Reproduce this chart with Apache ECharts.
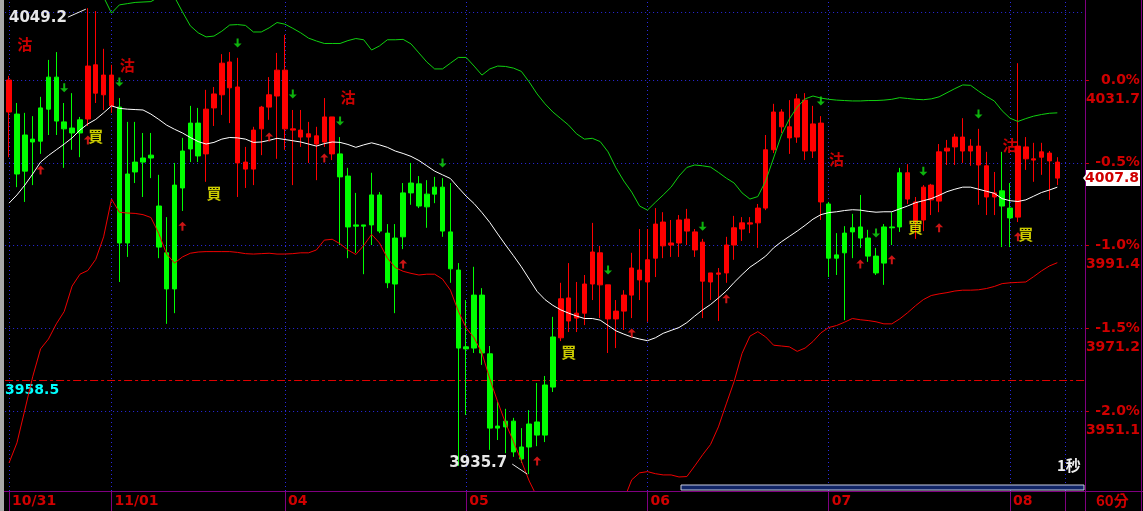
<!DOCTYPE html>
<html><head><meta charset="utf-8">
<script src="https://cdn.jsdelivr.net/npm/echarts@6/dist/echarts.min.js"></script>
<style>html,body{margin:0;padding:0;background:#000;}#c{width:1143px;height:511px;}</style>
</head><body><div id="c"></div>
<script>
// ---------- data ----------
const dayLabels = ['10/31','11/01','04','05','06','07','08'];
const dayBarCounts = [13,22,23,23,23,23,7];
const padSlots = 3;

const opens = [4023.9,4023.4,4018.3,4017.3,4024.9,4032.4,4032.4,4021.5,4020.0,4022.0,
4022.2,4028.5,4028.1,4025.4,4025.1,4008.8,4011.7,4012.7,4013.4,4001.0,
3989.6,4006.1,4014.4,4021.2,4021.2,4013.7,4024.9,4028.1,4029.8,4011.5,
4010.0,4010.0,4019.8,4025.1,4027.8,4019.8,4019.5,4017.8,4017.8,4016.1,
4016.6,4013.7,4013.7,4008.3,3996.4,3996.4,4003.7,4003.7,3994.4,3993.2,
4004.2,4006.6,4006.4,4003.9,4005.6,4005.6,3994.7,3985.4,3966.7,3979.3,
3979.3,3965.0,3947.4,3948.6,3948.6,3942.3,3947.9,3948.4,3957.4,3969.1,
3968.9,3973.0,3973.7,3974.9,3982.0,3981.8,3973.5,3973.5,3975.4,3979.3,
3983.0,3982.5,3988.3,3991.3,3991.5,3992.0,3994.9,3990.3,3982.7,3982.5,
3984.4,3984.7,3991.5,3995.4,3996.6,3996.9,4000.5,4014.7,4020.3,4017.6,
4017.8,4014.4,4014.4,4002.0,4001.5,3989.1,3994.4,3995.7,3995.9,3993.2,
3988.8,3995.9,3995.9,4009.1,4002.7,3997.4,3997.6,4002.5,4002.2,4014.4,
4015.4,4014.4,4014.4,4011.0,4003.2,4003.2,4004.7,4000.5,3998.3,4012.5,
4012.2,4012.9,4012.0,4007.8];
const closes = [4031.7,4008.8,4009.5,4016.6,4016.8,4024.6,4021.7,4019.8,4018.8,4018.8,
4035.1,4035.4,4032.9,4032.9,3992.0,3992.0,4009.3,4011.7,4012.7,3991.0,
3980.8,3980.8,4005.4,4014.9,4013.2,4024.6,4028.3,4035.8,4036.1,4030.0,
4011.7,4019.5,4025.1,4028.1,4034.1,4034.1,4019.8,4019.5,4018.6,4018.1,
4022.7,4022.7,4008.1,3995.9,3996.1,3996.1,3996.4,3994.9,3982.3,3982.0,
3993.5,4004.2,4001.0,4000.8,4003.9,3994.9,3985.7,3966.4,3966.2,3966.4,
3965.2,3946.9,3946.9,3947.2,3941.1,3939.4,3942.3,3945.2,3945.2,3956.9,
3978.4,3978.6,3974.9,3982.0,3989.8,3989.6,3981.8,3975.4,3979.3,3985.9,
3985.4,3987.9,3996.6,3997.1,3992.0,3997.6,3997.8,3994.7,3992.2,3984.7,
3984.7,3991.5,3995.7,3996.9,3996.9,4000.5,4014.7,4023.9,4023.9,4020.3,
4027.1,4026.8,4021.0,4021.2,3988.3,3988.3,3989.6,3994.7,3993.2,3988.8,
3984.7,3987.1,3995.7,3995.9,4009.1,4002.0,4005.6,4006.1,4014.2,4015.1,
4017.8,4017.8,4015.6,4015.6,4010.8,4004.2,4001.0,3998.1,4015.6,4015.4,
4012.5,4014.2,4013.9,4011.7];
const lows = [4012.9,4005.6,4002.0,4006.1,4013.7,4018.3,4018.3,4010.3,4014.7,4012.9,
4020.5,4026.1,4024.4,4023.7,3982.5,3988.6,4006.6,4003.2,4007.8,3988.3,
3972.3,3974.9,3999.8,4011.7,4011.7,4006.9,4020.5,4023.2,4021.2,4003.2,
4005.4,4006.1,4013.4,4022.0,4012.5,4014.7,4006.1,4015.4,4011.5,4007.3,
4015.4,4012.2,3991.5,3988.3,3989.6,3984.4,3991.5,3994.4,3981.0,3974.9,
3990.5,4001.3,4000.5,3995.7,4001.7,3993.5,3982.3,3937.7,3950.1,3965.2,
3962.3,3941.6,3944.0,3940.8,3939.9,3938.4,3935.7,3942.5,3943.5,3955.7,
3968.1,3970.3,3970.3,3972.0,3978.1,3973.7,3965.2,3966.4,3970.8,3973.7,
3978.1,3972.8,3983.7,3988.3,3988.6,3988.6,3991.5,3988.6,3973.7,3978.1,
3973.0,3982.3,3987.9,3992.5,3994.4,3990.8,4000.0,4013.9,4018.8,4013.7,
4016.4,4012.2,4012.7,3997.6,3983.7,3984.2,3973.2,3988.3,3990.8,3987.4,
3984.2,3981.8,3991.5,3994.7,4001.5,3993.0,3994.9,3998.8,3999.5,4011.0,
4011.0,4011.5,4010.8,4001.3,3998.8,3998.8,3991.0,3991.0,3997.1,4009.8,
4006.9,4008.6,4002.5,4006.1];
const highs = [4032.7,4026.1,4023.7,4022.9,4027.6,4036.6,4038.5,4026.1,4028.5,4022.7,
4049.2,4048.5,4039.3,4035.4,4027.3,4021.5,4021.5,4018.8,4018.8,4008.6,
3998.3,4011.5,4017.6,4025.4,4024.9,4029.3,4030.0,4038.0,4038.5,4037.1,
4015.4,4020.3,4025.4,4032.4,4038.3,4042.7,4024.4,4024.4,4021.5,4020.3,
4027.3,4022.7,4017.8,4010.3,4004.2,3996.4,4009.1,4004.4,3996.6,3996.6,
4006.6,4011.5,4008.3,4007.3,4008.1,4007.8,4006.6,3987.1,3978.1,3986.2,
3981.0,3966.9,3953.3,3951.6,3949.4,3946.9,3951.3,3957.9,3959.6,3974.0,
3982.3,3987.1,3982.5,3984.2,3996.9,3991.3,3981.8,3978.1,3980.5,3989.6,
3995.4,3995.4,4000.5,3999.5,3997.6,3998.8,4000.3,3995.4,3993.0,3984.7,
3985.9,3993.5,3998.6,3998.3,3998.3,4001.5,4018.3,4025.9,4024.6,4026.8,
4028.3,4028.5,4025.4,4022.9,4002.0,3994.4,3996.1,3999.1,4003.7,3995.2,
3990.8,3996.6,3999.5,4010.3,4011.2,4003.2,4006.1,4006.4,4016.1,4017.1,
4018.6,4022.4,4017.3,4019.8,4014.2,4009.3,4014.2,4006.6,4035.8,4017.8,
4016.4,4016.4,4014.4,4012.9];

const upperBand = [4065.1,4063.4,4061.7,4059.7,4057.8,4056.1,4054.6,4053.6,4053.1,4052.7,
4052.4,4052.2,4051.9,4048.0,4050.0,4050.3,4050.6,4050.7,4050.8,4051.9,
4052.7,4051.9,4048.3,4044.9,4043.2,4042.2,4042.4,4043.6,4045.1,4045.2,
4045.0,4043.4,4043.4,4044.4,4045.7,4045.3,4044.3,4043.2,4041.9,4041.2,
4040.6,4040.6,4040.6,4041.3,4041.8,4041.5,4039.0,4040.0,4041.5,4041.5,
4041.6,4040.5,4038.3,4036.1,4034.4,4034.4,4035.8,4037.2,4037.2,4035.1,
4032.9,4034.4,4035.1,4035.0,4034.6,4033.8,4031.2,4028.3,4025.9,4023.9,
4022.3,4020.7,4018.6,4017.3,4017.5,4016.7,4014.2,4010.3,4007.1,4004.4,
4001.0,4000.0,4001.9,4003.7,4005.6,4008.3,4010.4,4011.0,4010.8,4010.5,
4009.2,4007.8,4006.6,4004.2,4002.7,4003.3,4007.1,4012.7,4018.3,4022.2,
4025.1,4027.1,4027.8,4027.3,4027.0,4026.8,4026.7,4026.6,4026.6,4026.7,
4026.7,4026.8,4027.0,4027.4,4027.2,4027.0,4026.9,4027.1,4027.6,4028.6,
4029.6,4030.5,4030.4,4029.0,4027.7,4026.6,4024.2,4022.4,4021.6,4022.3,
4022.9,4023.3,4023.6,4023.7];
const middleBand = [4001.7,4003.7,4006.1,4008.8,4011.7,4013.3,4014.7,4016.1,4017.6,4019.5,
4021.0,4022.1,4023.7,4025.4,4024.8,4024.6,4024.5,4024.4,4023.4,4022.1,
4020.7,4019.7,4018.8,4017.7,4016.7,4016.1,4016.5,4017.3,4017.7,4017.6,
4017.3,4016.5,4016.6,4017.0,4017.5,4017.2,4016.9,4016.6,4016.1,4015.6,
4016.2,4016.6,4016.5,4016.0,4015.3,4015.9,4016.4,4015.9,4015.3,4014.4,
4013.8,4013.1,4012.1,4010.8,4009.5,4008.6,4007.7,4005.5,4003.4,4001.6,
3999.4,3997.0,3994.2,3991.5,3988.9,3986.2,3983.2,3980.2,3978.2,3976.8,
3975.7,3974.9,3974.2,3973.6,3973.6,3973.2,3971.9,3970.6,3969.8,3969.1,
3968.6,3968.2,3968.9,3970.0,3970.7,3971.4,3972.6,3974.2,3975.7,3977.0,
3978.6,3980.3,3982.4,3984.3,3986.1,3987.4,3988.8,3990.8,3992.3,3993.6,
3994.9,3996.3,3997.8,3998.9,3999.4,3999.6,3999.9,4000.1,4000.0,3999.7,
3999.5,3999.6,3999.6,4000.3,4001.0,4001.8,4002.3,4002.8,4003.6,4004.5,
4005.1,4005.6,4005.6,4005.1,4004.6,4004.1,4002.8,4002.3,4002.1,4002.5,
4003.4,4004.3,4004.9,4005.6];
const lowerBand = [3938.4,3943.3,3951.3,3959.4,3966.2,3968.6,3972.3,3975.3,3981.5,3984.4,
3985.3,3988.0,3993.5,4002.7,3999.5,3999.3,3999.2,3998.9,3998.2,3994.3,
3989.3,3987.1,3988.6,3989.5,3989.8,3989.9,3989.9,3989.9,3989.9,3989.7,
3989.4,3989.3,3989.4,3989.5,3989.3,3989.3,3989.4,3989.6,3989.6,3990.3,
3992.7,3992.9,3991.8,3990.3,3989.2,3991.4,3994.1,3992.0,3988.3,3986.0,
3985.1,3984.6,3984.2,3984.4,3984.4,3983.2,3980.5,3975.4,3971.3,3968.9,
3965.2,3958.9,3953.3,3948.1,3943.6,3938.9,3934.0,3930.1,3928.2,3927.0,
3926.0,3925.2,3924.8,3924.5,3924.5,3924.8,3925.2,3926.5,3929.4,3934.3,
3936.0,3936.3,3935.8,3935.5,3935.5,3935.0,3935.1,3937.7,3940.4,3942.9,
3947.2,3952.8,3958.3,3965.1,3969.3,3970.4,3969.1,3967.1,3966.9,3966.7,
3965.6,3966.4,3968.0,3970.1,3971.4,3971.9,3972.7,3973.6,3973.3,3973.1,
3972.8,3972.3,3972.3,3973.5,3975.0,3976.7,3978.2,3979.2,3979.6,3979.9,
3980.3,3980.5,3980.5,3980.6,3980.9,3981.4,3982.1,3982.3,3982.4,3982.5,
3983.8,3985.2,3986.4,3987.2];

// signal markers: [bar index, price]
const sellSignals = [[2,4040.5],[15,4035.4],[43,4027.6],[105,4012.5],[127,4015.9]];
const buySignals = [[11,4018.1],[26,4004.2],[71,3965.4],[115,3995.7],[129,3994.2]];
const downArrows = [[7,4029.8],[14,4031.2],[29,4040.7],[36,4028.3],[42,4021.7],[55,4011.5],
  [76,3985.4],[88,3996.1],[103,4026.6],[110,3994.4],[116,4009.5],[123,4023.4]];
const upArrows = [[4,4009.8],[10,4017.1],[22,3996.1],[33,4017.8],[40,4012.7],[50,3986.9],
  [67,3938.9],[79,3970.1],[91,3978.4],[108,3986.9],[112,3987.9],[118,3995.7],[128,3993.5]];

const refPrice = 4031.7;            // 0.0% level
const pctTicks = [0, -0.5, -1.0, -1.5, -2.0];
const extraGridPrice = 4048.3;
const lastPrice = 4007.8;
const refLinePrice = 3958.5;
const yMin = 3931.58, yMax = 4051.19;

// ---------- build ----------
const categories = [];
const dayStartCats = [];
dayLabels.forEach((d, di) => {
  for (let k = 0; k < dayBarCounts[di]; k++) {
    const c = d + '#' + k; categories.push(c); if (k === 0) dayStartCats.push(c);
  }
});
for (let k = 0; k < padSlots; k++) { const c = 'pad#' + k; categories.push(c); if (k === 0) dayStartCats.push(c); }

const candleData = opens.map((o, i) => [o, closes[i], lows[i], highs[i]]);
const tickPrices = pctTicks.map(p => +(refPrice * (1 + p / 100)).toFixed(2));
const gridPrices = [extraGridPrice].concat(tickPrices);

const RED = '#ff0000', GREEN = '#00ff00', AXRED = '#d00000', PURPLE = '#800080';
const FONT = 'DejaVu Sans';
const CJK = 'Noto Sans CJK TC';
const DOWN_ARROW = 'path://M3,0H5V5H8L4,9L0,5H3Z';
const UP_ARROW = 'path://M4,0L8,4H5V9H3V4H0Z';

const chart = echarts.init(document.getElementById('c'), null, {renderer: 'canvas'});

function textSeries(data, ch, color) {
  return {
    type: 'scatter', data: data, z: 5, symbol: 'rect', symbolSize: 1,
    itemStyle: {color: 'rgba(0,0,0,0)'}, silent: true,
    label: {show: true, position: 'inside', formatter: ch, color: color,
      fontFamily: CJK, fontWeight: 'bold', fontSize: 15}
  };
}

const option = {
  backgroundColor: '#000',
  animation: false,
  grid: {left: 5.1, right: 58.1, top: 0, bottom: 20, containLabel: false, outerBoundsMode: 'none'},
  xAxis: {
    type: 'category', data: categories, boundaryGap: true,
    axisLine: {show: true, lineStyle: {color: PURPLE, width: 1}},
    axisTick: {show: true, alignWithLabel: true, length: 20,
      interval: (i, v) => dayStartCats.indexOf(v) >= 0,
      lineStyle: {color: PURPLE, width: 1}},
    axisLabel: {
      interval: (i, v) => v.endsWith('#0') && !v.startsWith('pad'),
      formatter: v => v.split('#')[0],
      align: 'left', margin: 3, padding: [0, 0, 0, 3],
      color: AXRED, fontFamily: FONT, fontWeight: 'bold', fontSize: 14
    },
    splitLine: {show: false}
  },
  yAxis: {
    type: 'value', position: 'right', min: yMin, max: yMax,
    axisLine: {show: true, lineStyle: {color: PURPLE, width: 1}},
    axisTick: {show: true, customValues: tickPrices, length: 4, lineStyle: {color: AXRED}},
    axisLabel: {
      customValues: tickPrices, align: 'right', margin: 55,
      formatter: v => {
        const p = (Math.round((v / refPrice - 1) * 1000) / 10).toFixed(1);
        return '{e| }\n{p|' + p + '%}\n{v|' + v.toFixed(1) + '}';
      },
      rich: {
        e: {fontSize: 14, lineHeight: 19},
        p: {fontSize: 14, lineHeight: 19, fontWeight: 'bold', color: AXRED, fontFamily: FONT, align: 'right'},
        v: {fontSize: 14, lineHeight: 19, fontWeight: 'bold', color: AXRED, fontFamily: FONT, align: 'right'}
      }
    },
    splitLine: {show: false}
  },
  series: [
    { // dotted grid
      type: 'line', data: [], z: 1, silent: true,
      markLine: {
        silent: true, symbol: ['none', 'none'], animation: false, z: 1,
        label: {show: false},
        lineStyle: {color: '#2a2ae0', type: [1, 3], width: 1},
        data: dayStartCats.map(c => ({xAxis: c})).concat(gridPrices.map(v => ({yAxis: v})))
      }
    },
    { // reference line
      type: 'line', data: [], z: 1, silent: true,
      markLine: {
        silent: true, symbol: ['none', 'none'], animation: false, z: 1,
        lineStyle: {color: '#e00000', type: [8, 3, 3, 3], width: 1},
        label: {show: true, position: 'insideStartBottom', distance: [0, 3],
          formatter: refLinePrice.toFixed(1), color: '#00ffff',
          fontFamily: FONT, fontWeight: 'bold', fontSize: 14},
        data: [{yAxis: refLinePrice}]
      }
    },
    {
      type: 'candlestick', data: candleData, z: 2, barWidth: 5,
      itemStyle: {color: RED, color0: GREEN, borderColor: RED, borderColor0: GREEN, borderWidth: 1,
        borderColorDoji: RED}
    },
    {type: 'line', data: upperBand, z: 3, showSymbol: false, symbol: 'none', silent: true,
      lineStyle: {color: '#10d010', width: 1}},
    {type: 'line', data: middleBand, z: 3, showSymbol: false, symbol: 'none', silent: true,
      lineStyle: {color: '#ffffff', width: 1}},
    {type: 'line', data: lowerBand, z: 3, showSymbol: false, symbol: 'none', silent: true,
      lineStyle: {color: '#ee0000', width: 1}},
    {type: 'scatter', data: downArrows, z: 4, symbol: DOWN_ARROW, symbolSize: [8, 9], silent: true,
      itemStyle: {color: '#10e010'}},
    {type: 'scatter', data: upArrows, z: 4, symbol: UP_ARROW, symbolSize: [8, 9], silent: true,
      itemStyle: {color: '#ff1a1a'}},
    textSeries(sellSignals, '沽', '#ff0000'),
    textSeries(buySignals, '買', '#ffff00')
  ]
};
chart.setOption(option);

// extreme labels and current-price box placed through the chart's own scales
const maxIdx = highs.indexOf(Math.max.apply(null, highs));
const minIdx = lows.indexOf(Math.min.apply(null, lows));
const pMax = chart.convertToPixel({gridIndex: 0}, [maxIdx, highs[maxIdx]]);
const pMin = chart.convertToPixel({gridIndex: 0}, [minIdx, lows[minIdx]]);
const pLast = chart.convertToPixel({gridIndex: 0}, [0, lastPrice]);

chart.setOption({
  graphic: [
    {type: 'rect', shape: {x: 0, y: 0, width: 4, height: 511}, style: {fill: '#a8a8a8'}, z: 100},
    {type: 'line', shape: {x1: 0, y1: 491.5, x2: 1143, y2: 491.5}, style: {stroke: PURPLE, lineWidth: 1}, z: 90},
    {type: 'line', shape: {x1: 1085.5, y1: 0, x2: 1085.5, y2: 511}, style: {stroke: PURPLE, lineWidth: 1}, z: 90},
    {type: 'line', shape: {x1: 1141.5, y1: 0, x2: 1141.5, y2: 511}, style: {stroke: PURPLE, lineWidth: 1}, z: 90},
    {type: 'rect', shape: {x: 681, y: 485, width: 403, height: 5},
      style: {fill: '#102466', stroke: '#c8cce0', lineWidth: 1}, z: 90},
    {type: 'text', x: 1057, y: 458, style: {text: '1秒', fill: '#f0f0f0', font: 'bold 15px "Noto Sans CJK TC"'}, z: 90},
    {type: 'text', x: 1096, y: 493, style: {text: '60分', fill: AXRED, font: 'bold 15px "Noto Sans CJK TC"'}, z: 90},
    {type: 'rect', shape: {x: 1086, y: pLast[1] - 8, width: 54, height: 16}, style: {fill: '#ffffff'}, z: 95},
    {type: 'polygon', shape: {points: [[1083, pLast[1]], [1087, pLast[1] - 5], [1087, pLast[1] + 5]]}, style: {fill: '#ffffff'}, z: 95},
    {type: 'text', style: {text: lastPrice.toFixed(1), x: 1139, y: pLast[1],
      textAlign: 'right', textVerticalAlign: 'middle', fill: AXRED, font: 'bold 14px "DejaVu Sans"'}, z: 96},
    {type: 'text', style: {text: highs[maxIdx].toFixed(1), x: pMax[0] - 21, y: pMax[1] + 10,
      textAlign: 'right', textVerticalAlign: 'middle', fill: '#e8e8e8', font: 'bold 15px "DejaVu Sans"'}, z: 90},
    {type: 'line', shape: {x1: pMax[0] - 20, y1: pMax[1] + 9, x2: pMax[0] - 2, y2: pMax[1] + 1},
      style: {stroke: '#e8e8e8', lineWidth: 1}, z: 90},
    {type: 'text', style: {text: lows[minIdx].toFixed(1), x: pMin[0] - 22, y: pMin[1] - 11,
      textAlign: 'right', textVerticalAlign: 'middle', fill: '#e8e8e8', font: 'bold 15px "DejaVu Sans"'}, z: 90},
    {type: 'line', shape: {x1: pMin[0] - 17, y1: pMin[1] - 10, x2: pMin[0] - 2, y2: pMin[1]},
      style: {stroke: '#e8e8e8', lineWidth: 1}, z: 90}
  ]
});
</script>
</body></html>
